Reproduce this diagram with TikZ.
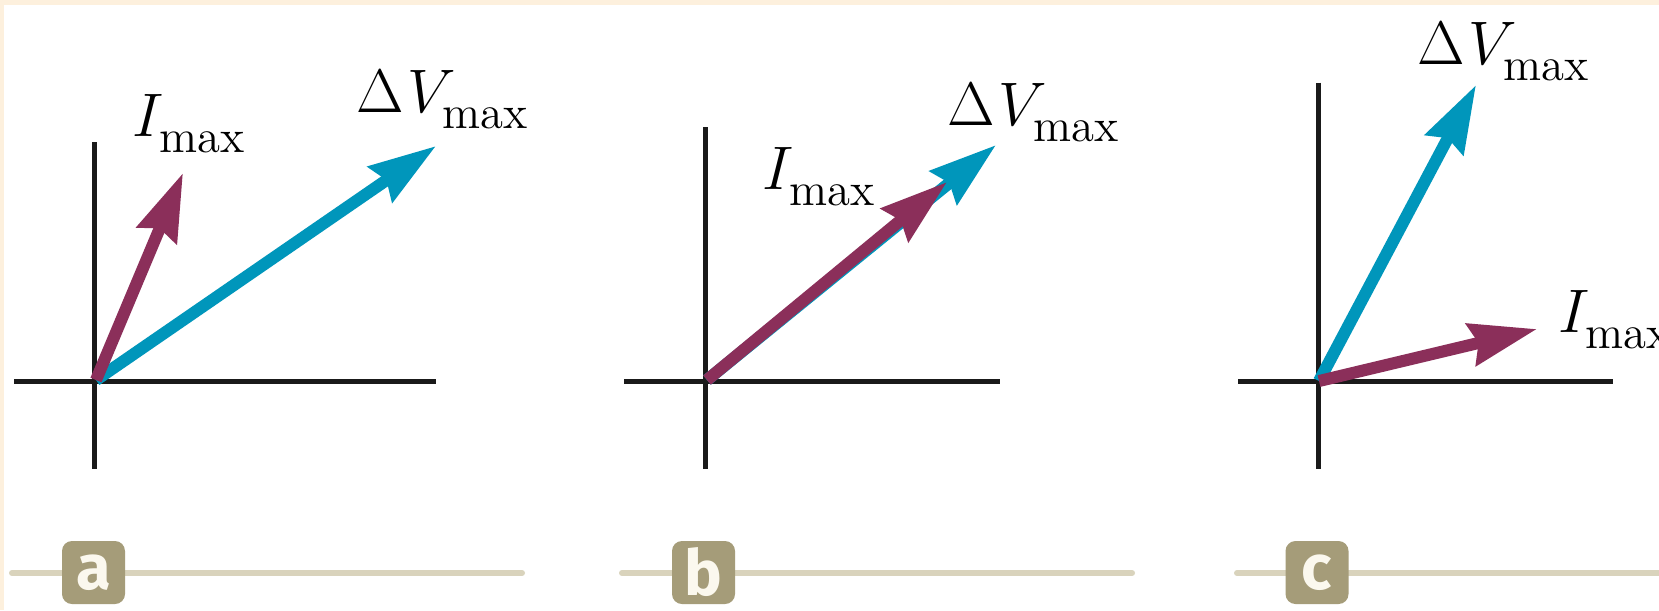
\RequirePackage{fix-cm}
\documentclass[tikz,border=0pt]{standalone}
\usepackage{fontspec}
\newfontfamily\tagfont{Fira Sans}
\usepackage{tikz}
\usetikzlibrary{arrows.meta, positioning}
\DeclareMathSizes{17.5}{17.5}{13.3}{10}
\newcommand{\mxsub}{_{\raisebox{-0.7mm}{$\scriptstyle\mathrm{max}$}}}

\definecolor{cream}{HTML}{FDF0DD}
\definecolor{vcyan}{HTML}{0096BB}
\definecolor{ipurple}{HTML}{8B2F5A}
\definecolor{axisblack}{HTML}{1A1A1A}
\definecolor{tagfill}{HTML}{A59C79}
\definecolor{tagrule}{HTML}{D9D3BC}
\definecolor{tagtext}{HTML}{FBF8EE}

\begin{document}
\begin{tikzpicture}[x=0.1mm, y=-0.1mm,
    font=\fontsize{17.5}{21}\selectfont,
    axis/.style={axisblack, line width=0.5mm},
    phasor/.style={line width=1.2mm, -{Stealth[length=6.7mm, width=4.2mm, inset=0.7mm]}},
    vvec/.style={phasor, vcyan},
    ivec/.style={phasor, ipurple},
    lbl/.style={inner sep=0pt, anchor=base west},
    tagline/.style={tagrule, line width=0.6mm, line cap=round},
    tagbox/.style={fill=tagfill, rounded corners=1mm, minimum width=6.3mm, minimum height=6.3mm,
                   inner sep=0pt, text=tagtext, font=\tagfont\bfseries\fontsize{18}{18}\selectfont}]
  \useasboundingbox (0,0) rectangle (1659,610);
  \fill[cream] (0,0) rectangle (1659,610);
  \fill[white] (4,5) rectangle (1659,610);

  % panel a
  \draw[axis] (14,381.5) -- (436,381.5);
  \draw[axis] (94.5,142) -- (94.5,468.5);
  \coordinate (oa) at (96,380);
  \coordinate (va) at (436,146);
  \coordinate (ia) at (183,173);
  \draw[vvec] (oa) -- (va);
  \draw[ivec] (oa) -- (ia);
  \node[lbl] (la) at (132,136) {$I\mxsub$};
  \node[lbl] (lva) at (356,112) {$\Delta\mkern1mu V\mxsub$};
  \draw[tagline] (12,573) -- (522,573);
  \node[tagbox] (taga) at (93.5,572.5) {a};

  % panel b
  \draw[axis] (624,381.5) -- (1000,381.5);
  \draw[axis] (705,127) -- (705,468.5);
  \coordinate (ob) at (707,380);
  \coordinate (vb) at (996,145);
  \coordinate (ib) at (947,182);
  \draw[vvec] (ob) -- (vb);
  \draw[ivec] (ob) -- (ib);
  \node[lbl] (lb) at (762,189) {$I\mxsub$};
  \node[lbl] (lvb) at (947,125) {$\Delta\mkern1mu V\mxsub$};
  \draw[tagline] (622,573) -- (1132,573);
  \node[tagbox] (tagb) at (703.5,572.5) {b};

  % panel c
  \draw[axis] (1238,381.5) -- (1613,381.5);
  \draw[axis] (1318,82.5) -- (1318,468.5);
  \coordinate (oc) at (1319,381);
  \coordinate (vc) at (1476,85);
  \coordinate (ic) at (1537,329);
  \draw[vvec] (oc) -- (vc);
  \draw[ivec] (oc) -- (ic);
  \node[lbl] (lvc) at (1417,64) {$\Delta\mkern1mu V\mxsub$};
  \node[lbl] (lc) at (1558,332) {$I\mxsub$};
  \draw[tagline] (1237,573) -- (1670,573);
  \node[tagbox] (tagc) at (1317,572.5) {c};
\end{tikzpicture}
\end{document}
